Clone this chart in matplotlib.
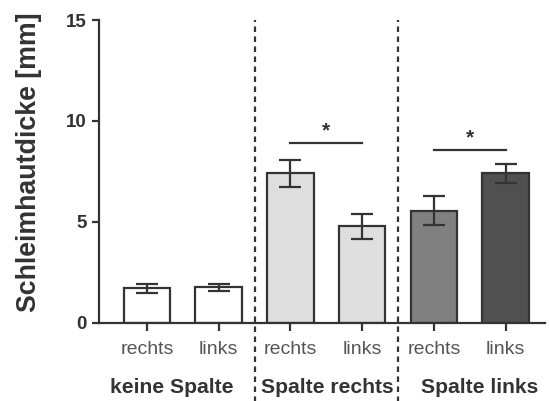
import matplotlib
matplotlib.use("Agg")
import matplotlib.pyplot as plt

plt.rcParams['font.family'] = ['Liberation Sans', 'DejaVu Sans']

sides = ["rechts", "links", "rechts", "links", "rechts", "links"]
groups = ["keine Spalte", "Spalte rechts", "Spalte links"]
group_pos = [0.34, 2.52, 4.64]
means = [1.70, 1.75, 7.40, 4.78, 5.56, 7.40]
errors = [0.20, 0.15, 0.65, 0.62, 0.70, 0.47]
colors = ["#ffffff", "#ffffff", "#dedede", "#dedede", "#808080", "#505050"]
sig_pairs = [(2, 3, 8.9), (4, 5, 8.55)]
yticks = [0, 5, 10, 15]

edge = "#333333"
fig = plt.figure(figsize=(5.5, 4.01), dpi=100)
ax = fig.add_axes([0.18, 0.195, 0.811, 0.755])

x = list(range(len(means)))
ax.bar(x, means, width=0.65, color=colors, edgecolor=edge, linewidth=1.6, zorder=2)
ax.errorbar(x, means, yerr=errors, fmt='none', ecolor=edge, elinewidth=1.6,
            capsize=8, capthick=1.6, zorder=3)

for a, b, h in sig_pairs:
    ax.plot([a, b], [h, h], color=edge, lw=1.6, clip_on=False)
    ax.text((a + b) / 2, h + 0.12, "*", ha='center', va='bottom',
            fontsize=15, fontweight='bold', color=edge)

for xv in [1.5, 3.5]:
    ax.axvline(xv, ymin=-0.27, ymax=1.0, color=edge, lw=1.6,
               linestyle=(0, (2.5, 2)), clip_on=False, zorder=4)

ax.set_xlim(-0.67, 5.55)
ax.set_ylim(0, 15)
ax.set_yticks(yticks)
ax.set_yticklabels([str(t) for t in yticks], fontsize=13.5, fontweight='bold', color=edge)
ax.set_xticks(x)
ax.set_xticklabels(sides, fontsize=14, color="#555555")
ax.tick_params(axis='y', length=5, width=1.6, color=edge, pad=4)
ax.tick_params(axis='x', length=6, width=1.6, color=edge, pad=7)

for s in ['top', 'right']:
    ax.spines[s].set_visible(False)
for s in ['left', 'bottom']:
    ax.spines[s].set_linewidth(1.6)
    ax.spines[s].set_color(edge)

ax.set_ylabel("Schleimhautdicke [mm]", fontsize=19.3, fontweight='bold', color=edge)
ax.yaxis.set_label_coords(-0.128, 0.53)

for g, gx in zip(groups, group_pos):
    ax.text(gx, -0.215, g, transform=ax.get_xaxis_transform(),
            ha='center', va='center', fontsize=15.2, fontweight='bold', color=edge)

fig.savefig("out.png", dpi=100)
